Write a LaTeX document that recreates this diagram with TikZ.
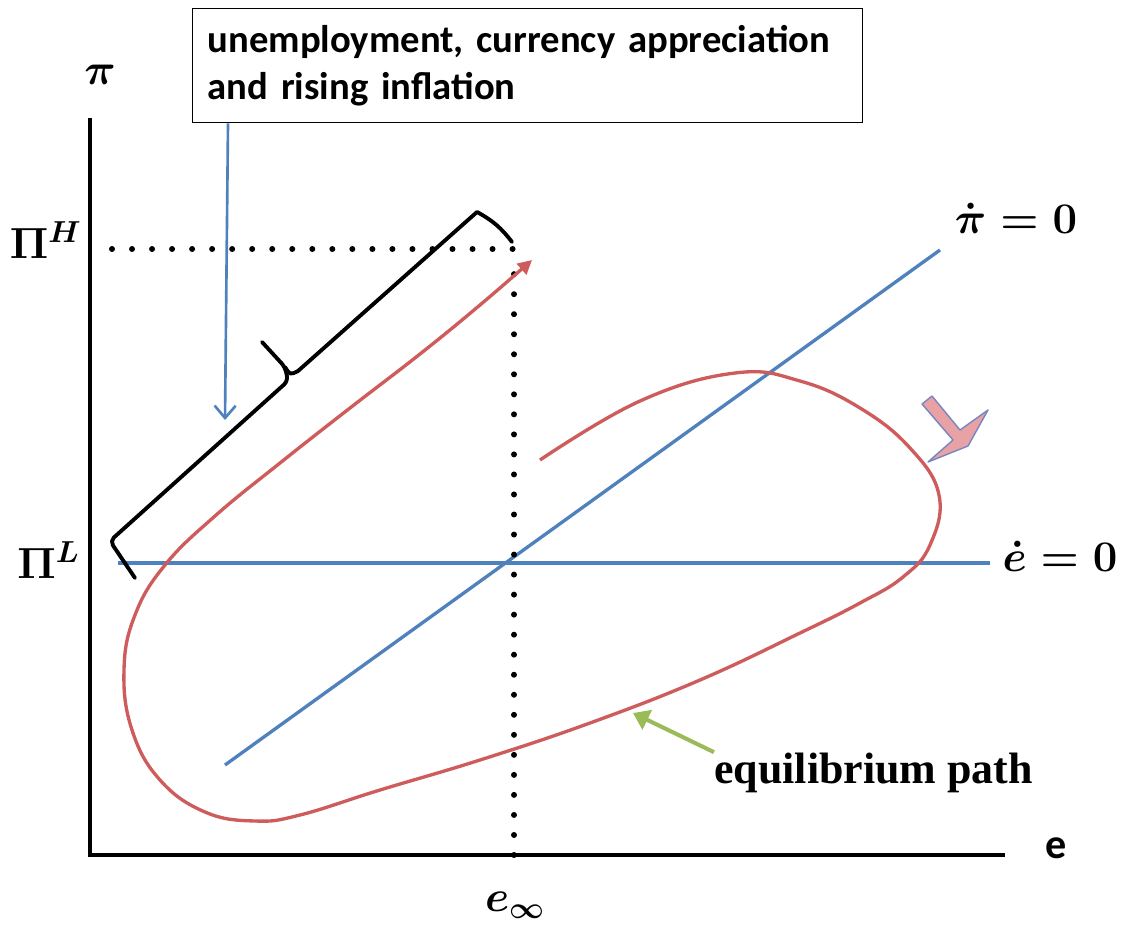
\documentclass[tikz,border=0pt]{standalone}
\usepackage{amsmath}
\usepackage{fontspec}
\newfontfamily\calfont{Carlito}
\newfontfamily\pathfont{Liberation Serif}
\usetikzlibrary{arrows.meta}
\definecolor{pathred}{RGB}{206,92,92}
\definecolor{lineblue}{RGB}{79,129,189}
\definecolor{notegreen}{RGB}{155,187,89}
\definecolor{hintpink}{RGB}{232,162,166}
\definecolor{hintedge}{RGB}{118,134,192}

\begin{document}
\begin{tikzpicture}[
 x=0.02cm, y=-0.02cm,
 axis/.style={line width=2.3pt},
 locus/.style={lineblue,line width=1.9pt},
 eqpath/.style={pathred,line width=1.9pt},
 guide/.style={line width=3.4pt,line cap=round,dash pattern=on 0pt off 11.4pt},
 mlabel/.style={font=\fontsize{23}{27}\selectfont\boldmath,inner sep=0pt},
 notebox/.style={draw,line width=0.8pt,align=left,inner xsep=0.3cm,text width=12.8cm,
   minimum width=13.4cm,minimum height=2.28cm,font=\calfont\bfseries\fontsize{22}{26.5}\selectfont},
 notelink/.style={lineblue,line width=1.5pt,-{Straight Barb[length=7pt,width=12pt]}},
 greenarr/.style={notegreen,line width=2.3pt,-{Triangle[length=9pt,width=12pt]}},
 bracestroke/.style={line width=2.2pt,line join=round,line cap=round}
]
\useasboundingbox (0,0) rectangle (1123,930);
% axes
\draw[axis] (90,118) -- (90,855);
\draw[axis] (88,855) -- (1005,855);
\node[mlabel] (lblPi) at (100,75) {$\pi$};
\node[font=\calfont\bfseries\fontsize{24}{28}\selectfont,inner sep=0pt] (lblE) at (1056,848) {e};
\node[mlabel] (lblEinf) at (515,905) {$e_\infty$};
\node[mlabel,anchor=base east] (lblPiH) at (82,258) {$\Pi^{H}$};
\node[mlabel,anchor=base east] (lblPiL) at (80,578) {$\Pi^{L}$};
% loci
\coordinate (eq) at (514,563);
\draw[locus] (118,563) -- (990,563);
\draw[locus] (225,765) -- (940,250);
\node[mlabel] (lblPidot) at (1016,218) {$\dot{\pi}=0$};
\node[mlabel] (lblEdot) at (1060,556) {$\dot{e}=0$};
% dotted guides
\draw[guide] (112,249) -- (513,249);
\draw[guide] (514,855) -- (514,272);
% equilibrium path
\draw[eqpath,-{Triangle[length=8pt,width=8pt]}] plot[smooth,tension=0.7] coordinates {
 (540,460) (640,401) (735,373) (800,381) (860,408) (910,448) (939,495)
 (930,545) (903,577) (860,603) (800,633) (700,680) (590,723) (480,760) (380,790)
 (300,815) (255,821) (205,812) (160,780) (132,730) (124,670) (135,615) (165,565)
 (215,516) (280,463) (350,408) (420,354) (480,305) (532,260)};
\filldraw[fill=hintpink,draw=hintedge,line width=0.8pt,line join=round]
 (922,404) -- (932,396) -- (960,430) -- (988,410) -- (968,446) -- (928,462) -- (953,440) -- cycle;
% brace and note
\coordinate (braceJ) at (285,367);
\draw[bracestroke,rounded corners=3pt] (135,578) -- (110,541) -- (288,381) -- (braceJ) -- (262,342);
\draw[bracestroke] (braceJ) .. controls (290,375) .. (298,371) -- (477,212) to[bend left=12] (512,242);
\node[notebox,anchor=north west] (note) at (192,8) {unemployment, currency appreciation\\and rising inflation};
\coordinate (braceArm) at (225,420);
\draw[notelink] (228,0 |- note.south) -- (braceArm);
\node[font=\pathfont\bfseries\fontsize{25}{29}\selectfont,inner sep=0pt,anchor=base west] (lblPath) at (714,783) {equilibrium path};
\coordinate (pathPt) at (633,713);
\draw[greenarr] (lblPath.north west) -- (pathPt);
\end{tikzpicture}
\end{document}
